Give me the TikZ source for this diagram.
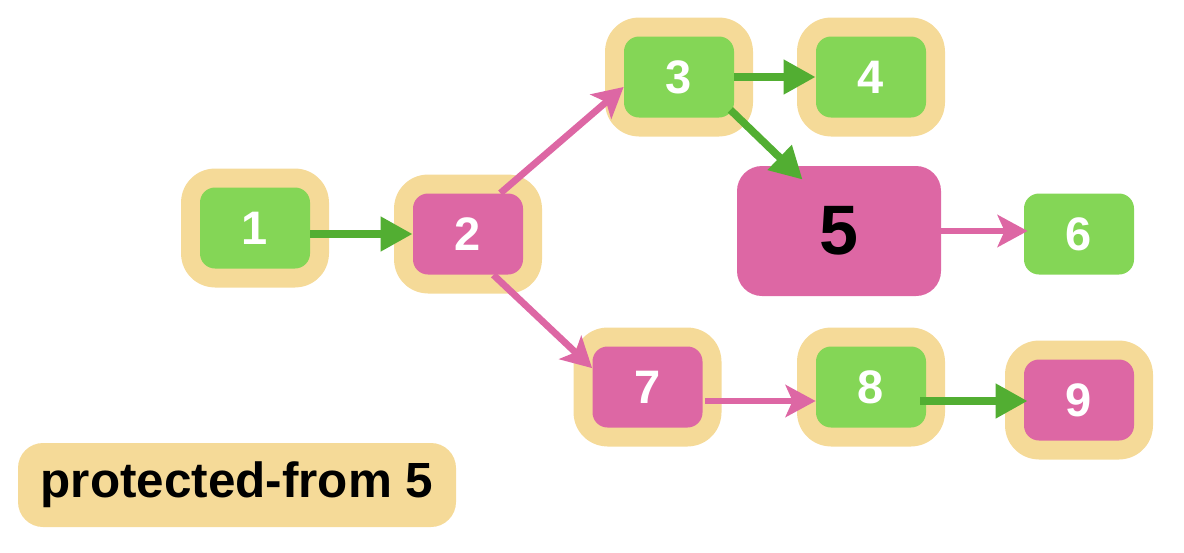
\documentclass[tikz,border=0pt]{standalone}
\usepackage{fontspec}
\setmainfont{Liberation Sans}
\usepackage{tikz}
\usetikzlibrary{arrows.meta}
\definecolor{halo}{RGB}{245,218,152}
\definecolor{leaf}{RGB}{132,214,86}
\definecolor{rose}{RGB}{221,103,164}
\definecolor{moss}{RGB}{82,174,50}
\begin{document}
\begin{tikzpicture}[x=0.5pt, y=-0.5pt,
  box/.style={rectangle, rounded corners=7.5pt, minimum width=55pt, minimum height=40.5pt,
    inner sep=0pt, text=white, font=\bfseries\fontsize{23.5}{28}\selectfont},
  haloed/.style={preaction={draw=halo, line width=19pt, line join=round}},
  gbox/.style={box, fill=leaf},
  pbox/.style={box, fill=rose},
  garrow/.style={moss, line width=3.8pt, -{Triangle[length=16pt,width=16.5pt]}},
  parrow/.style={rose, line width=3.4pt, -{Stealth[length=15pt,width=16pt,inset=3.5pt]}}]
\useasboundingbox (0,0) rectangle (1184,552);
\node[gbox,haloed] (n1) at (255,228) {1};
\node[pbox,haloed] (n2) at (468,234) {2};
\node[gbox,haloed] (n3) at (679,77) {3};
\node[gbox,haloed] (n4) at (871,77) {4};
\node[pbox, minimum width=102pt, minimum height=65pt, rounded corners=12.5pt, text=black,
  font=\bfseries\fontsize{35}{40}\selectfont] (n5) at (839,231) {5};
\node[gbox] (n6) at (1079,234) {6};
\node[pbox,haloed] (n7) at (647.5,387) {7};
\node[gbox,haloed] (n8) at (871,387) {8};
\node[pbox,haloed] (n9) at (1079,400) {9};
\node[rectangle, fill=halo, rounded corners=12.5pt, minimum width=219pt, minimum height=42pt,
  font=\bfseries\fontsize{24.7}{28}\selectfont] (tag) at (237,485) {protected-from 5};

\draw[garrow] ([yshift=-3pt]n1.east) -- (n2.west);
\draw[parrow] ([xshift=-11.5pt]n2.north east) -- ([yshift=-5pt]n3.west);
\draw[parrow] ([xshift=-15pt]n2.south east) -- ([yshift=-11pt]n7.north west);
\draw[garrow] (n3.east) -- (n4.west);
\draw[garrow] ([xshift=-2pt,yshift=4pt]n3.south east) -- ([xshift=33pt,yshift=-7pt]n5.north west);
\draw[parrow] (n5.east) -- ([xshift=2pt]n5.east -| n6.west);
\draw[parrow] ([xshift=1pt,yshift=-7pt]n7.east) -- ([yshift=-7pt]n8.west);
\draw[garrow] ([xshift=-3pt,yshift=-7pt]n8.east) -- ([xshift=2pt,yshift=-7pt]n8.east -| n9.west);
\end{tikzpicture}
\end{document}
